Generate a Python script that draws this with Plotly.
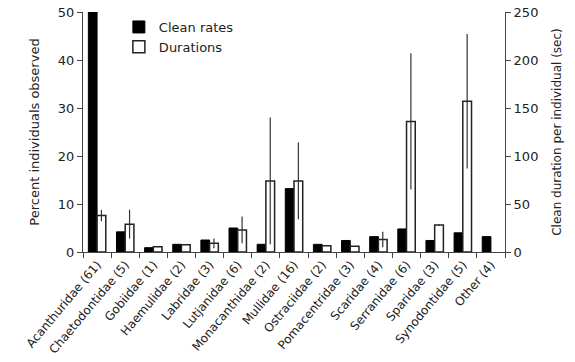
import plotly.graph_objects as go

categories = ["Acanthuridae (61)", "Chaetodontidae (5)", "Gobiidae (1)", "Haemulidae (2)",
              "Labridae (3)", "Lutjanidae (6)", "Monacanthidae (2)", "Mullidae (16)",
              "Ostraciidae (2)", "Pomacentridae (3)", "Scaridae (4)", "Serranidae (6)",
              "Sparidae (3)", "Synodontidae (5)", "Other (4)"]
clean_rates = [50, 4.2, 0.9, 1.6, 2.5, 5.0, 1.6, 13.2, 1.6, 2.4, 3.2, 4.8, 2.4, 4.0, 3.2]
durations = [38, 29, 5.5, 7.5, 9, 23, 74, 74, 6.5, 6, 13, 136, 28, 157, None]
duration_err = [6, 15, 0, 0, 5, 14, 66, 40, 0, 0, 8, 71, 1, 70, 0]

FONT = "DejaVu Sans"

fig = go.Figure()
fig.add_trace(go.Bar(
    x=categories, y=clean_rates, name="Clean rates",
    marker=dict(color="black", line=dict(color="black", width=1)),
    offsetgroup="a", yaxis="y",
))
fig.add_trace(go.Bar(
    x=categories, y=durations, name="Durations",
    marker=dict(color="white", line=dict(color="#222222", width=1.5)),
    error_y=dict(type="data", array=duration_err, visible=True, thickness=1.2,
                 width=0, color="#333333"),
    offsetgroup="b", yaxis="y2",
))

fig.update_layout(
    width=575, height=362,
    margin=dict(l=83, r=70, t=12, b=110, autoexpand=False),
    paper_bgcolor="white", plot_bgcolor="white",
    barmode="group", bargap=0.38, bargroupgap=0,
    font=dict(family=FONT, size=13, color="#222222"),
    showlegend=True,
    legend=dict(x=0.085, y=1.0, xanchor="left", yanchor="top",
                bgcolor="rgba(0,0,0,0)", font=dict(size=13),
                tracegroupgap=2, itemwidth=30),
    xaxis=dict(
        type="category", tickangle=-50, tickfont=dict(size=12), automargin=False,
        showline=True, linecolor="#444444", linewidth=1,
        ticks="outside", ticklen=5, tickcolor="#444444", tickson="boundaries",
        showgrid=False, zeroline=False,
    ),
    yaxis=dict(
        range=[0, 50], dtick=10, showline=True, linecolor="#444444", linewidth=1,
        ticks="outside", ticklen=5, tickcolor="#444444", showgrid=False, zeroline=False,
        title=dict(text="Percent individuals observed", font=dict(size=13)),
        tickfont=dict(size=13), automargin=False,
    ),
    yaxis2=dict(
        range=[0, 250], dtick=50, overlaying="y", side="right",
        showline=True, linecolor="#444444", linewidth=1,
        ticks="outside", ticklen=5, tickcolor="#444444", showgrid=False, zeroline=False,
        title=dict(text="Clean duration per individual (sec)", font=dict(size=12)),
        tickfont=dict(size=13), automargin=False,
    ),
)

fig.write_html("out.html", config={"displayModeBar": False},
               post_script="document.body.style.margin='0';")
